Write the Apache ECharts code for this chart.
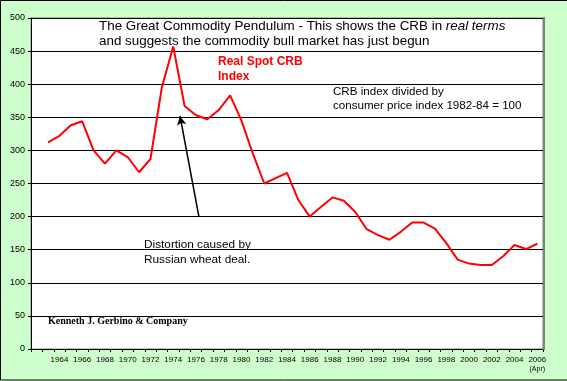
<!DOCTYPE html>
<html><head><meta charset="utf-8">
<script src="https://cdn.jsdelivr.net/npm/echarts@6/dist/echarts.min.js"></script>
<style>html,body{margin:0;padding:0;background:#CCFFCC}#c{width:567px;height:381px}</style>
</head><body><div id="c"></div>
<script>
const years = ['1962','1963','1964','1965','1966','1967','1968','1969','1970','1971','1972','1973','1974','1975','1976','1977','1978','1979','1980','1981','1982','1983','1984','1985','1986','1987','1988','1989','1990','1991','1992','1993','1994','1995','1996','1997','1998','1999','2000','2001','2002','2003','2004','2005','2006'];
const realCRB = [null,312,322,338,344,300,280,300,290,267,287,395,457,367,353,347,361,383,345,295,250,258,266,225,200,215,229,224,207,181,172,165,177,191,191,182,160,135,129,127,127,140,157,151,159];
const yTicks = [0,50,100,150,200,250,300,350,400,450,500];

const chart = echarts.init(document.getElementById('c'), null, {renderer:'canvas'});
chart.setOption({
  backgroundColor:'#CCFFCC',
  animation:false,
  grid:{left:31, top:18, right:24, bottom:32, show:true, backgroundColor:'#FFFFFF', borderColor:'#808080', borderWidth:1},
  xAxis:{
    type:'category', data:years, boundaryGap:true,
    axisLine:{lineStyle:{color:'#000', width:1}},
    axisTick:{show:true, interval:0, length:3, lineStyle:{color:'#000'}},
    axisLabel:{
      interval:0, margin:7, fontFamily:'Arial, Liberation Sans, sans-serif', fontSize:8, color:'#000',
      formatter:function(v){
        const y = +v;
        if (y < 1964 || y % 2) return '';
        if (y === 2006) return '2006\n{s|(Apr)}';
        return v;
      },
      rich:{s:{fontSize:7, fontFamily:'Arial, Liberation Sans, sans-serif', color:'#000', padding:[2,0,0,0]}}
    },
    splitLine:{show:false}
  },
  yAxis:{
    type:'value', min:yTicks[0], max:yTicks[yTicks.length-1], interval:50,
    axisLine:{show:true, lineStyle:{color:'#000', width:1}},
    axisTick:{show:true, length:3, lineStyle:{color:'#000'}},
    axisLabel:{margin:6, fontFamily:'Arial, Liberation Sans, sans-serif', fontSize:9, color:'#000'},
    splitLine:{show:true, lineStyle:{color:'#000', width:1}}
  },
  series:[{
    type:'line', data:realCRB, symbol:'none', connectNulls:false,
    lineStyle:{color:'#FF0000', width:2},
    markLine:{
      silent:true, symbol:['none','arrow'], symbolSize:[7,9],
      label:{show:false},
      lineStyle:{color:'#000', width:1.5, type:'solid'},
      data:[[{x:199, y:217},{x:180, y:116}]]
    }
  }],
  graphic:[
    {type:'rect', shape:{x:0.5,y:0.5,width:580,height:379.5}, style:{fill:'none', stroke:'#000', lineWidth:1}, z:100},
    {type:'line', shape:{x1:544, y1:17, x2:544, y2:350}, style:{stroke:'#808080', lineWidth:2}, z:60},
    {type:'text', left:99, top:19, style:{
      text:'The Great Commodity Pendulum - This shows the CRB in {i|real terms}\nand suggests the commodity bull market has just begun',
      fontFamily:'Arial, Liberation Sans, sans-serif', fontSize:13.4, lineHeight:15, fill:'#000',
      rich:{i:{fontStyle:'italic', fontFamily:'Arial, Liberation Sans, sans-serif', fontSize:13.4, fill:'#000'}}
    }, z:50},
    {type:'text', left:218, top:54, style:{
      text:'Real Spot CRB\nIndex', fontFamily:'Arial, Liberation Sans, sans-serif', fontWeight:'bold', fontSize:12, lineHeight:15, fill:'#FF0000'
    }, z:50},
    {type:'text', left:333, top:85, style:{
      text:'CRB index divided by\nconsumer price index 1982-84 = 100', fontFamily:'Arial, Liberation Sans, sans-serif', fontSize:11.6, lineHeight:14, fill:'#000'
    }, z:50},
    {type:'text', left:144, top:237, style:{
      text:'Distortion caused by\nRussian wheat deal.', fontFamily:'Arial, Liberation Sans, sans-serif', fontSize:11.8, lineHeight:15, fill:'#000'
    }, z:50},
    {type:'text', left:48, top:316, style:{
      text:'Kenneth J. Gerbino & Company', fontFamily:'"Times New Roman", "Liberation Serif", serif', fontWeight:'bold', fontSize:10, fill:'#000'
    }, z:50}
  ]
});
</script></body></html>
